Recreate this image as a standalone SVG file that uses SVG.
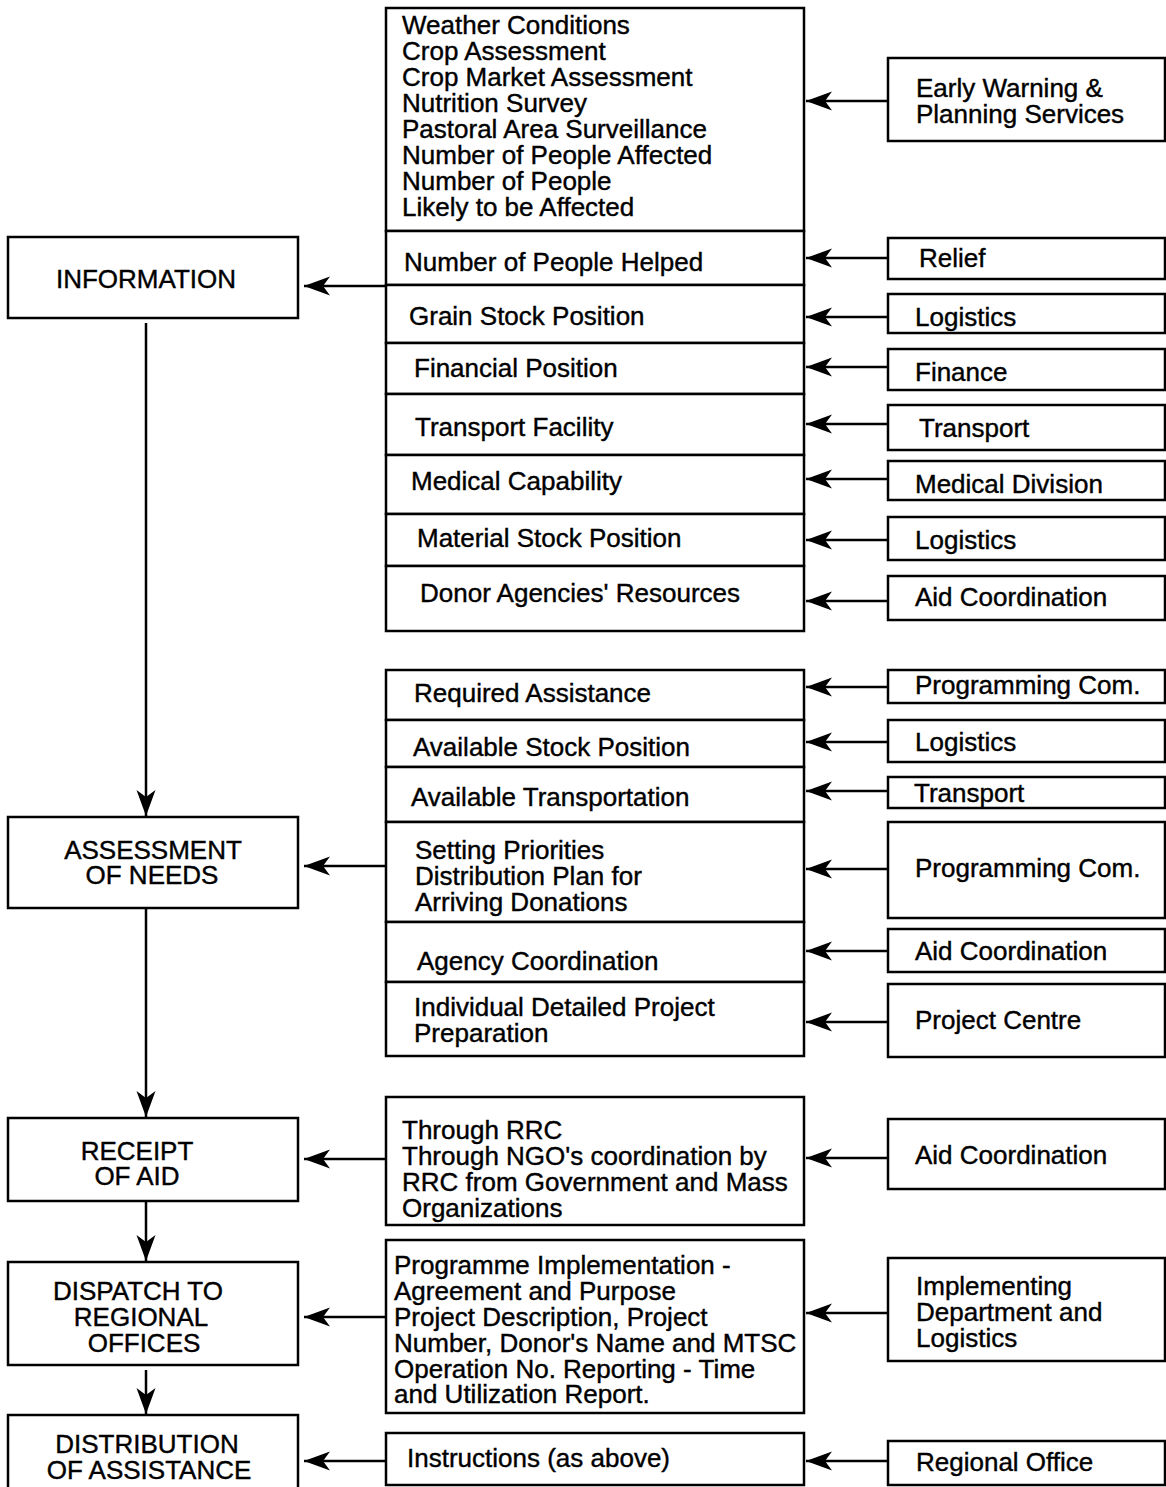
<svg xmlns="http://www.w3.org/2000/svg" width="1166" height="1487" viewBox="0 0 1166 1487">
<style>
.b{fill:#fff;stroke:#000;stroke-width:2.5}
.t{font-family:"Liberation Sans",Arial,Helvetica,sans-serif;font-size:26px;fill:#000;stroke:#000;stroke-width:0.4}
.c{text-anchor:middle}
.l{stroke:#000;stroke-width:2.5;fill:none;marker-end:url(#ah)}
</style>
<defs>
<marker id="ah" markerUnits="userSpaceOnUse" viewBox="0 -10 26 20" refX="26" refY="0" markerWidth="26" markerHeight="20" orient="auto">
<path d="M26,0 L0,-9.5 L7,0 L0,9.5 Z" fill="#000"/>
</marker>
</defs>

<g id="left">
<g id="information"><rect class="b" x="8" y="237" width="290" height="81"/><text class="t c" x="146" y="288">INFORMATION</text></g>
<g id="assessment"><rect class="b" x="8" y="817" width="290" height="91"/><text class="t c" x="153" y="859">ASSESSMENT</text><text class="t c" x="152" y="884">OF NEEDS</text></g>
<g id="receipt"><rect class="b" x="8" y="1118" width="290" height="83"/><text class="t c" x="137" y="1160">RECEIPT</text><text class="t c" x="137" y="1185">OF AID</text></g>
<g id="dispatch"><rect class="b" x="8" y="1262" width="290" height="103"/><text class="t c" x="138" y="1300">DISPATCH TO</text><text class="t c" x="141" y="1326">REGIONAL</text><text class="t c" x="144" y="1352">OFFICES</text></g>
<g id="distribution"><rect class="b" x="8" y="1415" width="290" height="80"/><text class="t c" x="147" y="1453">DISTRIBUTION</text><text class="t c" x="149" y="1479">OF ASSISTANCE</text></g>
</g>

<g id="middle1">
<g id="m-top"><rect class="b" x="386" y="8" width="418" height="223"/>
<text class="t" x="402" y="34">Weather Conditions</text>
<text class="t" x="402" y="60">Crop Assessment</text>
<text class="t" x="402" y="86">Crop Market Assessment</text>
<text class="t" x="402" y="112">Nutrition Survey</text>
<text class="t" x="402" y="138">Pastoral Area Surveillance</text>
<text class="t" x="402" y="164">Number of People Affected</text>
<text class="t" x="402" y="190">Number of People</text>
<text class="t" x="402" y="216">Likely to be Affected</text></g>
<g id="m-helped"><rect class="b" x="386" y="231" width="418" height="54"/><text class="t" x="404" y="271">Number of People Helped</text></g>
<g id="m-grain"><rect class="b" x="386" y="285" width="418" height="58"/><text class="t" x="409" y="325">Grain Stock Position</text></g>
<g id="m-fin"><rect class="b" x="386" y="343" width="418" height="51"/><text class="t" x="414" y="377">Financial Position</text></g>
<g id="m-trans"><rect class="b" x="386" y="394" width="418" height="61"/><text class="t" x="415" y="436">Transport Facility</text></g>
<g id="m-med"><rect class="b" x="386" y="455" width="418" height="59"/><text class="t" x="411" y="490">Medical Capability</text></g>
<g id="m-mat"><rect class="b" x="386" y="514" width="418" height="52"/><text class="t" x="417" y="547">Material Stock Position</text></g>
<g id="m-donor"><rect class="b" x="386" y="566" width="418" height="65"/><text class="t" x="420" y="602">Donor Agencies' Resources</text></g>
</g>

<g id="right1">
<g id="r-ew"><rect class="b" x="888" y="58" width="277" height="83"/><text class="t" x="916" y="97">Early Warning &amp;</text><text class="t" x="916" y="123">Planning Services</text></g>
<g id="r-relief"><rect class="b" x="888" y="238" width="277" height="41"/><text class="t" x="919" y="267">Relief</text></g>
<g id="r-log1"><rect class="b" x="888" y="294" width="277" height="39"/><text class="t" x="915" y="326">Logistics</text></g>
<g id="r-fin"><rect class="b" x="888" y="349" width="277" height="41"/><text class="t" x="915" y="381">Finance</text></g>
<g id="r-trans1"><rect class="b" x="888" y="405" width="277" height="45"/><text class="t" x="919" y="437">Transport</text></g>
<g id="r-med"><rect class="b" x="888" y="461" width="277" height="39"/><text class="t" x="915" y="493">Medical Division</text></g>
<g id="r-log2"><rect class="b" x="888" y="517" width="277" height="43"/><text class="t" x="915" y="549">Logistics</text></g>
<g id="r-aid1"><rect class="b" x="888" y="576" width="277" height="44"/><text class="t" x="915" y="606">Aid Coordination</text></g>
</g>

<g id="middle2">
<g id="m-req"><rect class="b" x="386" y="670" width="418" height="50"/><text class="t" x="414" y="702">Required Assistance</text></g>
<g id="m-avs"><rect class="b" x="386" y="720" width="418" height="47"/><text class="t" x="413" y="756">Available Stock Position</text></g>
<g id="m-avt"><rect class="b" x="386" y="767" width="418" height="55"/><text class="t" x="411" y="806">Available Transportation</text></g>
<g id="m-set"><rect class="b" x="386" y="822" width="418" height="100"/><text class="t" x="415" y="859">Setting Priorities</text><text class="t" x="415" y="885">Distribution Plan for</text><text class="t" x="415" y="911">Arriving Donations</text></g>
<g id="m-agency"><rect class="b" x="386" y="922" width="418" height="60"/><text class="t" x="417" y="970">Agency Coordination</text></g>
<g id="m-indiv"><rect class="b" x="386" y="982" width="418" height="74"/><text class="t" x="414" y="1016">Individual Detailed Project</text><text class="t" x="414" y="1042">Preparation</text></g>
</g>

<g id="right2">
<g id="r-prog1"><rect class="b" x="888" y="670" width="277" height="33"/><text class="t" x="915" y="694">Programming Com.</text></g>
<g id="r-log3"><rect class="b" x="888" y="720" width="277" height="42"/><text class="t" x="915" y="751">Logistics</text></g>
<g id="r-trans2"><rect class="b" x="888" y="777" width="277" height="31"/><text class="t" x="914" y="802">Transport</text></g>
<g id="r-prog2"><rect class="b" x="888" y="822" width="277" height="96"/><text class="t" x="915" y="877">Programming Com.</text></g>
<g id="r-aid2"><rect class="b" x="888" y="929" width="277" height="43"/><text class="t" x="915" y="960">Aid Coordination</text></g>
<g id="r-proj"><rect class="b" x="888" y="984" width="277" height="73"/><text class="t" x="915" y="1029">Project Centre</text></g>
</g>

<g id="bottom">
<g id="m-rrc"><rect class="b" x="386" y="1097" width="418" height="128"/><text class="t" x="402" y="1139">Through RRC</text><text class="t" x="402" y="1165">Through NGO's coordination by</text><text class="t" x="402" y="1191">RRC from Government and Mass</text><text class="t" x="402" y="1217">Organizations</text></g>
<g id="m-prog"><rect class="b" x="386" y="1240" width="418" height="173"/><text class="t" x="394" y="1274">Programme Implementation -</text><text class="t" x="394" y="1300">Agreement and Purpose</text><text class="t" x="394" y="1326">Project Description, Project</text><text class="t" x="394" y="1352">Number, Donor's Name and MTSC</text><text class="t" x="394" y="1378">Operation No. Reporting - Time</text><text class="t" x="394" y="1403">and Utilization Report.</text></g>
<g id="m-instr"><rect class="b" x="386" y="1433" width="418" height="52"/><text class="t" x="407" y="1467">Instructions (as above)</text></g>
<g id="r-aid3"><rect class="b" x="888" y="1119" width="277" height="70"/><text class="t" x="915" y="1164">Aid Coordination</text></g>
<g id="r-impl"><rect class="b" x="888" y="1258" width="277" height="103"/><text class="t" x="916" y="1295">Implementing</text><text class="t" x="916" y="1321">Department and</text><text class="t" x="916" y="1347">Logistics</text></g>
<g id="r-reg"><rect class="b" x="888" y="1441" width="277" height="44"/><text class="t" x="916" y="1471">Regional Office</text></g>
</g>

<g id="connectors">
<path class="l" d="M888,101 H806"/>
<path class="l" d="M888,258 H806"/>
<path class="l" d="M888,317 H806"/>
<path class="l" d="M888,367 H806"/>
<path class="l" d="M888,424 H806"/>
<path class="l" d="M888,479 H806"/>
<path class="l" d="M888,540 H806"/>
<path class="l" d="M888,601 H806"/>
<path class="l" d="M888,687 H806"/>
<path class="l" d="M888,742 H806"/>
<path class="l" d="M888,791 H806"/>
<path class="l" d="M888,869 H806"/>
<path class="l" d="M888,951 H806"/>
<path class="l" d="M888,1022 H806"/>
<path class="l" d="M888,1158 H806"/>
<path class="l" d="M888,1313 H806"/>
<path class="l" d="M888,1461 H806"/>
<path class="l" d="M386,286 H304"/>
<path class="l" d="M386,866 H304"/>
<path class="l" d="M386,1159 H304"/>
<path class="l" d="M386,1317 H304"/>
<path class="l" d="M386,1461 H304"/>
<path class="l" d="M146,323 V816"/>
<path class="l" d="M146,908 V1117"/>
<path class="l" d="M146,1201 V1261"/>
<path class="l" d="M146,1370 V1414"/>
</g>
</svg>
